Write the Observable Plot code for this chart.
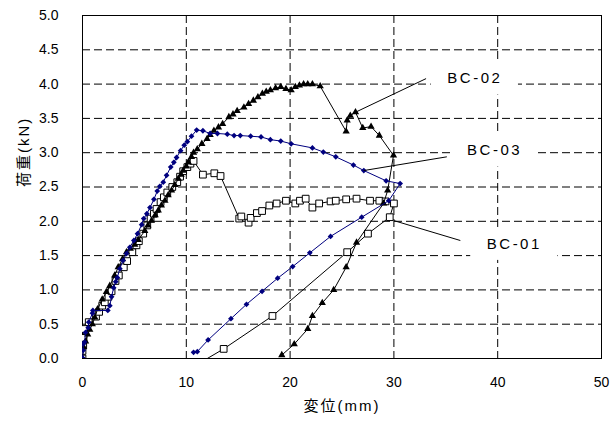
<!DOCTYPE html>
<html><head><meta charset="utf-8">
<script src="https://cdn.jsdelivr.net/npm/d3@7"></script>
<script src="https://cdn.jsdelivr.net/npm/@observablehq/plot@0.6"></script>
<style>body{margin:0;background:#fff;}</style>
</head><body><div id="chart"></div>
<script>
// BC-01 : open squares
const bc01 = [[0,0],[0,0.11],[0.07,0.19],[0.1,0.3],[0.13,0.43],[0.6,0.53],[1.3,0.61],[1.6,0.68],[1.9,0.77],[2.15,0.82],[2.5,0.9],[2.8,0.98],[3.18,1.13],[3.5,1.21],[3.98,1.33],[4.3,1.42],[4.8,1.55],[5.2,1.65],[5.43,1.71],[5.85,1.82],[6.24,1.94],[6.56,2.04],[6.88,2.11],[7.13,2.18],[7.52,2.28],[7.84,2.35],[8.17,2.42],[8.65,2.5],[9.13,2.57],[9.4,2.65],[9.7,2.73],[10.1,2.79],[10.4,2.84],[10.7,2.88],[11.6,2.68],[12.7,2.7],[13.3,2.66],[15.1,2.04],[15.3,2.07],[16.0,1.98],[16.2,2.05],[16.8,2.12],[17.3,2.15],[18.0,2.23],[18.7,2.26],[19.6,2.3],[20.5,2.26],[20.95,2.3],[21.5,2.33],[22.15,2.2],[22.8,2.26],[23.9,2.29],[24.4,2.3],[25.4,2.32],[26.4,2.33],[27.7,2.3],[28.6,2.3],[29.2,2.29],[30.0,2.26],[29.6,2.06],[27.5,1.82],[25.5,1.55],[18.3,0.62],[13.6,0.14],[10.9,-0.1]];
// BC-02 : filled triangles
const bc02 = [[0,0],[0.1,0.17],[0.3,0.25],[0.5,0.35],[0.7,0.42],[0.95,0.5],[1.19,0.6],[1.45,0.72],[1.9,0.86],[2.3,0.97],[2.63,1.06],[3.1,1.21],[3.44,1.33],[3.86,1.45],[4.24,1.55],[4.6,1.6],[5.04,1.66],[5.37,1.73],[6.0,1.86],[6.3,1.94],[6.65,2.01],[7.0,2.09],[7.3,2.16],[7.6,2.23],[7.94,2.3],[8.25,2.38],[8.58,2.45],[8.9,2.53],[9.23,2.62],[9.5,2.68],[9.7,2.74],[10.0,2.8],[10.2,2.86],[10.5,2.94],[10.7,3.0],[11.06,3.05],[11.5,3.13],[12.0,3.2],[12.3,3.26],[12.66,3.32],[13.1,3.37],[13.5,3.42],[14.1,3.52],[14.5,3.56],[14.9,3.61],[15.55,3.66],[16.0,3.71],[16.46,3.76],[16.9,3.81],[17.33,3.86],[17.7,3.89],[18.1,3.91],[18.6,3.94],[19.1,3.96],[19.6,3.93],[20.1,3.91],[20.5,3.96],[20.9,3.98],[21.3,4.0],[21.7,4.0],[22.15,4.0],[22.9,3.97],[25.4,3.31],[25.5,3.47],[25.8,3.54],[26.3,3.59],[27.0,3.36],[27.8,3.38],[28.6,3.25],[29.96,2.96],[29.4,2.45],[29.0,2.26],[26.4,1.69],[25.4,1.33],[24.2,1.0],[23.1,0.81],[22.15,0.62],[21.7,0.43],[20.4,0.21],[19.2,0.05]];
// BC-03 : filled diamonds (navy)
const bc03 = [[0,0],[0,0.01],[0.07,0.12],[0.07,0.21],[0.2,0.24],[0.29,0.38],[0.55,0.45],[0.6,0.53],[0.96,0.66],[1.0,0.7],[2.44,0.7],[2.63,0.77],[2.8,0.9],[3.0,1.03],[3.2,1.12],[3.35,1.18],[3.6,1.31],[3.9,1.43],[4.24,1.53],[4.56,1.62],[4.95,1.72],[5.3,1.82],[5.7,1.95],[5.9,2.04],[6.2,2.11],[6.5,2.2],[6.88,2.32],[7.2,2.44],[7.45,2.51],[7.78,2.57],[8.1,2.67],[8.5,2.79],[8.8,2.86],[9.06,2.93],[9.45,3.03],[9.8,3.11],[10.1,3.16],[10.5,3.24],[11.0,3.33],[11.6,3.32],[12.3,3.28],[13.0,3.28],[13.95,3.27],[14.6,3.25],[15.2,3.25],[16.2,3.24],[17.2,3.23],[18.1,3.19],[19.1,3.17],[20.1,3.13],[22.15,3.07],[23.2,3.01],[24.4,2.94],[26.1,2.82],[27.1,2.74],[29.25,2.59],[30.6,2.55],[29.5,2.3],[26.9,2.06],[23.9,1.78],[21.9,1.54],[20.25,1.34],[18.8,1.17],[17.3,0.98],[15.8,0.79],[14.3,0.58],[12.1,0.27],[11.06,0.1],[10.7,0.09]];

const xTicks = [0, 10, 20, 30, 40, 50];
const yTicks = [0, 0.5, 1, 1.5, 2, 2.5, 3, 3.5, 4, 4.5, 5];
const xGrid = [10, 20, 30, 40];
const yGrid = [0.5, 1, 1.5, 2, 2.5, 3, 3.5, 4, 4.5];

const labelNames = ["BC-01", "BC-02", "BC-03"];
const labelX = [41.6, 37.8, 39.7];
const labelY = [1.67, 4.08, 3.03];
const leaderStartX = [30.0, 26.3, 27.1];
const leaderStartY = [2.01, 3.59, 2.74];
const leaderEndX = [36.4, 33.1, 35.1];
const leaderEndY = [1.72, 4.08, 2.94];

const xLabel = "変位(mm)";
const yLabel = "荷重(kN)";

const toRows = (arr) => arr.map(([x, y]) => ({x, y}));
const labels = labelNames.map((t, i) => ({
  text: t, x: labelX[i], y: labelY[i],
  sx: leaderStartX[i], sy: leaderStartY[i], ex: leaderEndX[i], ey: leaderEndY[i]
}));

const navy = "#00007f";
const font = '"Liberation Sans", Arial, "Noto Sans CJK JP", sans-serif';

const chart = Plot.plot({
  width: 616, height: 421,
  marginLeft: 82, marginRight: 15, marginTop: 15, marginBottom: 63,
  style: {fontFamily: font, fontSize: "14px", background: "#fff", color: "#000"},
  x: {domain: [0, 50], ticks: xTicks, tickSize: 0, tickPadding: 19, tickFormat: d => String(d), label: null},
  y: {domain: [0, 5], ticks: yTicks, tickSize: 0, tickPadding: 24, tickFormat: d => d.toFixed(1), label: null},
  marks: [
    Plot.ruleX(xGrid, {stroke: "#000", strokeWidth: 1, strokeDasharray: "8,4"}),
    Plot.ruleY(yGrid, {stroke: "#000", strokeWidth: 1, strokeDasharray: "8,4"}),
    Plot.rect(labels, {x1: d => d.x - 4.2, x2: d => d.x + 4.2, y1: d => d.y - 0.24, y2: d => d.y + 0.24, fill: "white"}),
    Plot.frame({stroke: "#000", strokeWidth: 1}),
    Plot.line(toRows(bc01), {x: "x", y: "y", stroke: "#000", strokeWidth: 1, clip: true}),
    Plot.dot(toRows(bc01), {x: "x", y: "y", symbol: "square", r: 3.8, fill: "white", stroke: "#000", strokeWidth: 1, clip: true}),
    Plot.line(toRows(bc02), {x: "x", y: "y", stroke: "#000", strokeWidth: 1, clip: true}),
    Plot.dot(toRows(bc02), {x: "x", y: "y", symbol: "triangle", r: 2.7, fill: "#000", stroke: "none", clip: true}),
    Plot.line(toRows(bc03), {x: "x", y: "y", stroke: navy, strokeWidth: 1, clip: true}),
    Plot.dot(toRows(bc03), {x: "x", y: "y", symbol: "diamond2", r: 2.6, fill: navy, stroke: "none", clip: true}),
    Plot.link(labels, {x1: "sx", y1: "sy", x2: "ex", y2: "ey", stroke: "#000", strokeWidth: 1}),
    Plot.text(labels, {x: "x", y: "y", text: "text", fontSize: 15, fill: "#000"}),
    Plot.text([xLabel], {frameAnchor: "bottom", dy: 52, text: d => d, fontSize: 15, fill: "#000"}),
    Plot.text([yLabel], {frameAnchor: "left", dx: -58, rotate: -90, text: d => d, fontSize: 15, fill: "#000"})
  ]
});
// widen letter spacing of the annotation and axis-title texts
d3.select(chart).selectAll("text").each(function () {
  const t = this.textContent;
  if (labelNames.includes(t)) this.setAttribute("letter-spacing", "2.5");
  else if (t === xLabel || t === yLabel) this.setAttribute("letter-spacing", "2");
});
document.getElementById("chart").appendChild(chart);
</script>
</body></html>
